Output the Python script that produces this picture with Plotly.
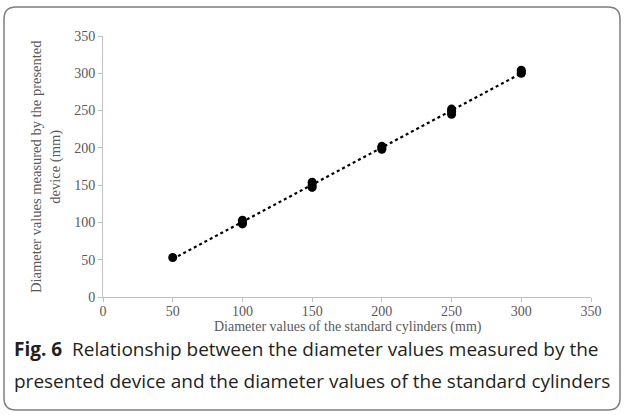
import plotly.graph_objects as go

# Data
standard_diam = [50, 100, 100, 100, 150, 150, 150, 200, 200, 200, 250, 250, 250, 300, 300, 300]
measured_diam = [53, 98, 100, 103, 147, 150, 154, 198, 200, 202, 245, 249, 252, 300, 302, 304]
trend_x = [50, 300]
trend_y = [51, 300]
tick_vals = [0, 50, 100, 150, 200, 250, 300, 350]

W, H = 624, 415
L, R, T, B = 103, 33, 36, 118
pw, ph = W - L - R, H - T - B

def px(x):
    return (x - L) / pw

def py(y):
    return (H - B - y) / ph

fig = go.Figure()
fig.add_trace(go.Scatter(x=trend_x, y=trend_y, mode="lines",
                         line=dict(color="black", width=2.2, dash="dot"),
                         hoverinfo="skip", showlegend=False))
fig.add_trace(go.Scatter(x=standard_diam, y=measured_diam, mode="markers",
                         marker=dict(color="black", size=9),
                         showlegend=False))

axis_common = dict(range=[0, 350], tickvals=tick_vals, showgrid=False, zeroline=False,
                   showline=True, linecolor="#c0c0c0", linewidth=1,
                   ticks="outside", ticklen=4, tickcolor="#c0c0c0",
                   tickfont=dict(family="Liberation Serif", size=14, color="#595959"))

fig.update_xaxes(**axis_common, ticklabelstandoff=-3)
fig.update_yaxes(**axis_common)

title_font = dict(family="Liberation Serif", size=14, color="#595959")
fig.add_annotation(x=px(348), y=py(327), xref="paper", yref="paper", xanchor="center", yanchor="middle",
                   showarrow=False, font=title_font,
                   text="Diameter values of the standard cylinders (mm)")
fig.add_annotation(x=px(46), y=py(167), xref="paper", yref="paper", xanchor="center", yanchor="middle",
                   showarrow=False, font=dict(family="Liberation Serif", size=14.5, color="#595959"),
                   textangle=-90,
                   text="Diameter values measured by the presented<br>device (mm)")

# rounded border
x0, x1, y0, y1, r = 4, 620, 7, 410, 12
path = (f"M {px(x0+r)},{py(y0)} L {px(x1-r)},{py(y0)} Q {px(x1)},{py(y0)} {px(x1)},{py(y0+r)} "
        f"L {px(x1)},{py(y1-r)} Q {px(x1)},{py(y1)} {px(x1-r)},{py(y1)} "
        f"L {px(x0+r)},{py(y1)} Q {px(x0)},{py(y1)} {px(x0)},{py(y1-r)} "
        f"L {px(x0)},{py(y0+r)} Q {px(x0)},{py(y0)} {px(x0+r)},{py(y0)} Z")
fig.add_shape(type="path", path=path, xref="paper", yref="paper",
              line=dict(color="#7f7f7f", width=1.5))

cap_font = dict(family="Open Sans", size=19, color="#231f20")
fig.add_annotation(x=px(12), y=py(349), xref="paper", yref="paper", xanchor="left", yanchor="middle",
                   showarrow=False, font=cap_font,
                   text="<b>Fig. 6</b>  Relationship between the diameter values measured by the")
fig.add_annotation(x=px(12), y=py(381), xref="paper", yref="paper", xanchor="left", yanchor="middle",
                   showarrow=False, font=cap_font,
                   text="presented device and the diameter values of the standard cylinders")

fig.update_layout(width=W, height=H, margin=dict(l=L, r=R, t=T, b=B),
                  paper_bgcolor="white", plot_bgcolor="white")

fig.write_html("out.html", config={"displayModeBar": False},
               post_script="document.body.style.margin='0';")
